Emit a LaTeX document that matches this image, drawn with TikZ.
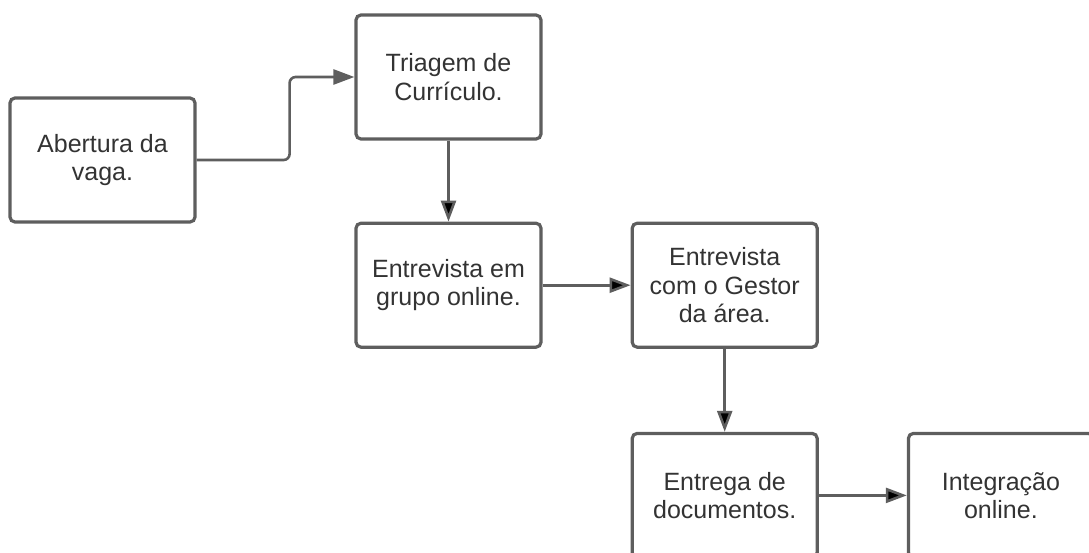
\documentclass[tikz,border=0pt]{standalone}
\usepackage{fontspec}
\setmainfont{Liberation Sans}
\usetikzlibrary{arrows.meta,positioning}
\definecolor{linegray}{HTML}{5E5E5E}
\definecolor{textgray}{HTML}{333333}
\tikzset{stepbox/.style={draw=linegray, line width=3.2pt, rectangle, rounded corners=5pt, minimum width=185pt, minimum height=124pt, inner sep=0pt, align=center, text=textgray, font=\fontsize{25}{28.5}\selectfont}}
\tikzstyle{flow}=[->, draw=linegray, line width=2.6pt]

\begin{document}
\begin{tikzpicture}[>={Triangle[length=21pt,width=15pt]}, node distance=81pt]
\useasboundingbox (0,0) rectangle (1089pt,-552pt);
\node[stepbox] (abertura) at (102.5pt,-160pt) {Abertura da\\vaga.};
\node[stepbox] (triagem) at (448.5pt,-77pt) {Triagem de\\Currículo.};
\node[stepbox] [below=of triagem] (grupo) {Entrevista em\\grupo online.};
\node[stepbox] [right=88pt of grupo] (gestor) {Entrevista\\com o Gestor\\da área.};
\node[stepbox] [below=83pt of gestor] (entrega) {Entrega de\\documentos.};
\node[stepbox] [right=88pt of entrega] (integracao) {Integração\\online.};

\draw[flow, rounded corners=6pt] (abertura.east) -- ++(93pt,0) |- (triagem.west);
\path[flow] (triagem) edge (grupo)
	(grupo) edge (gestor)
	(gestor) edge (entrega)
	(entrega) edge (integracao)
;
\end{tikzpicture}
\end{document}
